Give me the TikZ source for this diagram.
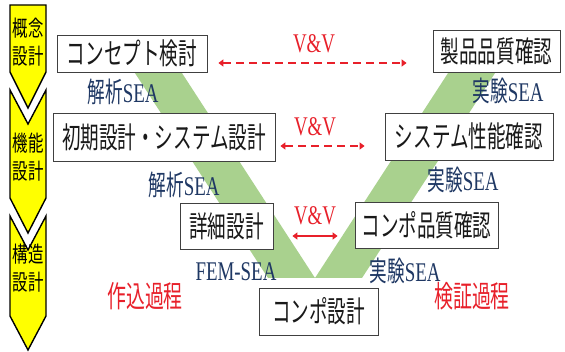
\documentclass[tikz,border=0pt]{standalone}
\usepackage{fontspec}
\newfontfamily\jpfont[FakeStretch=0.63]{Noto Sans CJK JP}
\newfontfamily\jpstage[FakeStretch=0.70]{Noto Sans CJK JP}
\newfontfamily\tnrfont[FakeStretch=0.70]{Liberation Serif}
\usetikzlibrary{arrows.meta}
\definecolor{vgreen}{HTML}{A9D18E}
\definecolor{navyc}{HTML}{1F3864}
\definecolor{vred}{HTML}{E8202A}
\definecolor{chev}{HTML}{FFFF00}
\newcommand\myjplabel[1]{{\jpfont\fontsize{28}{28}\selectfont #1}{\tnrfont\fontsize{27}{27}\selectfont SEA}}
\begin{document}
\begin{tikzpicture}[x=1pt,y=-1pt,
 box/.style={draw=black!75, line width=0.8pt, fill=white, inner sep=0pt,
   font=\jpfont\fontsize{29.5}{29.5}\selectfont, text=black!90},
 sealbl/.style={text=navyc, inner sep=0pt},
 vvlbl/.style={text=vred, inner sep=0pt, font=\tnrfont\fontsize{27}{27}\selectfont},
 vvarrow/.style={draw=vred, line width=2.6pt, {Triangle[length=5pt,width=7pt]}-{Triangle[length=5pt,width=7pt]}},
 proc/.style={text=vred, font=\jpfont\fontsize{30}{30}\selectfont, inner sep=0pt},
 stage/.style={draw=black, line width=1.4pt, fill=chev, line join=miter},
 stagetxt/.style={font=\jpstage\fontsize{22}{28}\selectfont, inner sep=0pt, align=center}
]
\useasboundingbox (0,0) rectangle (565,352);
\fill[white] (0,0) rectangle (565,352);

% stage chevrons
\draw[stage] (10,5) -- (46,5) -- (46,72) -- (28,108) -- (10,72) -- cycle;
\draw[stage] (10,90) -- (28,124) -- (46,90) -- (46,198) -- (28,233) -- (10,198) -- cycle;
\draw[stage] (10,216) -- (28,250) -- (46,216) -- (46,316) -- (28,350) -- (10,316) -- cycle;
\node[stagetxt] (t1) at (28,42) {概念\\設計};
\node[stagetxt] (t2) at (28,157) {機能\\設計};
\node[stagetxt] (t3) at (28,268) {構造\\設計};

% green V band
\fill[vgreen] (120,50) -- (268,278) -- (362,278) -- (510,50) -- (463,50) -- (315,278) -- (167,50) -- cycle;

% boxes
\node[box, minimum width=150pt, minimum height=37pt] (c1) at (132,53.5) {コンセプト検討};
\node[box, minimum width=222pt, minimum height=48pt] (c2) at (164,137) {初期設計・システム設計};
\node[box, minimum width=93pt, minimum height=46pt] (c3) at (226.5,226) {詳細設計};
\node[box, minimum width=119pt, minimum height=47pt] (c4) at (318.5,311.5) {コンポ設計};
\node[box, minimum width=143pt, minimum height=46pt] (c5) at (426.5,225) {コンポ品質確認};
\node[box, minimum width=168pt, minimum height=47pt] (c6) at (469,136.5) {システム性能確認};
\node[box, minimum width=127pt, minimum height=42pt] (c7) at (496.5,51) {製品品質確認};

% SEA labels
\node[sealbl] (s1) at (123,92) {\myjplabel{解析}};
\node[sealbl] (s2) at (184,185) {\myjplabel{解析}};
\node[sealbl, font=\tnrfont\fontsize{27}{27}\selectfont] (s3) at (236,272) {FEM-SEA};
\node[sealbl] (s4) at (508,91) {\myjplabel{実験}};
\node[sealbl] (s5) at (463,180) {\myjplabel{実験}};
\node[sealbl] (s6) at (405,271) {\myjplabel{実験}};

% process labels
\node[proc] (p1) at (145,296) {作込過程};
\node[proc] (p2) at (472,296) {検証過程};

% V&V
\node[vvlbl] (v1) at (314,44) {V\&V};
\node[vvlbl] (v2) at (315,127) {V\&V};
\node[vvlbl] (v3) at (315,216) {V\&V};
\draw[vvarrow, dash pattern=on 8pt off 5pt] ([xshift=11pt,yshift=-9.5pt]c1.east) -- ([xshift=-26pt,yshift=-12pt]c7.west);
\draw[vvarrow, dash pattern=on 8pt off 5pt] ([xshift=5pt,yshift=-9pt]c2.east) -- ([xshift=-20pt,yshift=-9.5pt]c6.west);
\draw[vvarrow, line width=2pt] ([xshift=19pt,yshift=-10pt]c3.east) -- ([xshift=-17pt,yshift=-11pt]c5.west);
\end{tikzpicture}
\end{document}
